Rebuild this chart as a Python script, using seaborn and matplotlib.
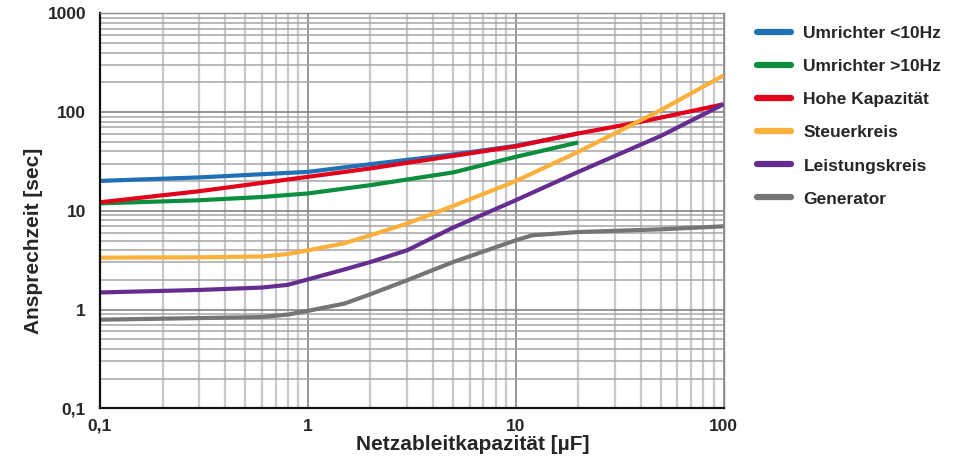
import numpy as np
import pandas as pd
import matplotlib
matplotlib.use("Agg")
import matplotlib.pyplot as plt
from matplotlib.ticker import FixedLocator, FuncFormatter, NullFormatter
import seaborn as sns

# Werte (log-log)
series_names = ["Umrichter <10Hz", "Umrichter >10Hz", "Hohe Kapazität",
                "Steuerkreis", "Leistungskreis", "Generator"]
colors = ["#2070b8", "#0b8f3e", "#e2001a", "#fbb03b", "#662d91", "#757575"]

umr_lo_x = [0.1, 0.3, 1, 2, 5, 10, 20]
umr_lo_y = [20.1, 21.8, 24.8, 29.7, 37.2, 45.5, 60.8]

umr_hi_x = [0.1, 0.3, 0.6, 1, 2, 5, 10, 20]
umr_hi_y = [11.9, 12.8, 13.8, 15.0, 18.2, 24.5, 35.2, 49.3]

hohe_x = [0.1, 0.3, 1, 2, 5, 10, 20, 40, 100]
hohe_y = [12.2, 15.8, 22.1, 26.9, 36.0, 45.0, 60.8, 79.7, 120]

steuer_x = [0.1, 0.3, 0.6, 0.8, 1, 1.5, 2, 3, 5, 10, 20, 50, 100]
steuer_y = [3.36, 3.38, 3.45, 3.65, 3.98, 4.7, 5.65, 7.43, 11.2, 20.0, 39.6, 105, 235]

leist_x = [0.1, 0.3, 0.6, 0.8, 1, 1.5, 2, 3, 5, 10, 20, 50, 100]
leist_y = [1.49, 1.58, 1.67, 1.78, 2.02, 2.55, 3.03, 3.98, 6.77, 12.8, 24.8, 57.5, 120]

gen_x = [0.1, 0.3, 0.6, 0.8, 1, 1.5, 2, 3, 5, 10, 12, 20, 50, 100]
gen_y = [0.79, 0.82, 0.84, 0.89, 0.97, 1.15, 1.43, 1.98, 3.03, 5.03, 5.65, 6.1, 6.5, 6.97]

x_ticks = [0.1, 1, 10, 100]
y_ticks = [0.1, 1, 10, 100, 1000]

frames = []
for name, xs, ys in zip(series_names,
                        [umr_lo_x, umr_hi_x, hohe_x, steuer_x, leist_x, gen_x],
                        [umr_lo_y, umr_hi_y, hohe_y, steuer_y, leist_y, gen_y]):
    frames.append(pd.DataFrame({"series": name, "x": xs, "y": ys}))
df = pd.concat(frames, ignore_index=True)

sns.set_style("white")
plt.rcParams["font.family"] = ["Liberation Sans", "DejaVu Sans"]

fig = plt.figure(figsize=(9.66, 4.61), dpi=100)
ax = fig.add_axes([0.1035, 0.1143, 0.6455, 0.8567])

ax.set_xscale("log")
ax.set_yscale("log")
ax.set_xlim(0.1, 100)
ax.set_ylim(0.1, 1000)

# Gitter
minor = [m * 10.0 ** e for e in range(-1, 3) for m in range(2, 10)]
ax.xaxis.set_major_locator(FixedLocator(x_ticks))
ax.yaxis.set_major_locator(FixedLocator(y_ticks))
ax.xaxis.set_minor_locator(FixedLocator(minor))
ax.yaxis.set_minor_locator(FixedLocator(minor))
ax.xaxis.set_minor_formatter(NullFormatter())
ax.yaxis.set_minor_formatter(NullFormatter())
fmt = FuncFormatter(lambda v, p: ("%g" % v).replace(".", ","))
ax.xaxis.set_major_formatter(fmt)
ax.yaxis.set_major_formatter(fmt)

ax.grid(True, axis="x", which="minor", color="#c8c8c8", lw=1.6, zorder=0)
ax.grid(True, axis="y", which="minor", color="#a6a6a6", lw=1.1, zorder=0)
ax.grid(True, axis="both", which="major", color="#7a7a7a", lw=1.1, zorder=0)
ax.set_axisbelow(True)

sns.lineplot(data=df, x="x", y="y", hue="series", hue_order=series_names,
             palette=colors, estimator=None, linewidth=3.0, ax=ax,
             solid_capstyle="butt")

for side in ["top", "right"]:
    ax.spines[side].set_color("#8a8a8a")
    ax.spines[side].set_linewidth(1.0)
for side in ["left", "bottom"]:
    ax.spines[side].set_color("#111111")
    ax.spines[side].set_linewidth(1.6)

ax.tick_params(which="major", length=5, width=1.4, color="#111111",
               labelsize=12.5, pad=5)
ax.tick_params(axis="x", which="major", pad=2.5)
ax.tick_params(which="minor", length=0)
for lab in ax.get_xticklabels() + ax.get_yticklabels():
    lab.set_fontweight("bold")

ax.set_xlabel("Netzableitkapazität [µF]", fontsize=15, fontweight="bold")
ax.set_ylabel("Ansprechzeit [sec]", fontsize=15, fontweight="bold")
ax.xaxis.set_label_coords(0.598, -0.068)
ax.yaxis.set_label_coords(-0.092, 0.423)

handles, labels = ax.get_legend_handles_labels()
leg = ax.legend(handles, labels, loc="upper left", bbox_to_anchor=(1.043, 0.985),
                frameon=False, fontsize=12.5, handlelength=1.96,
                handletextpad=0.7, labelspacing=1.03, borderaxespad=0.0)
for h in leg.get_lines():
    h.set_linewidth(4.5)
    h.set_solid_capstyle("round")
for t in leg.get_texts():
    t.set_fontweight("bold")

fig.savefig("out.png", dpi=100)
